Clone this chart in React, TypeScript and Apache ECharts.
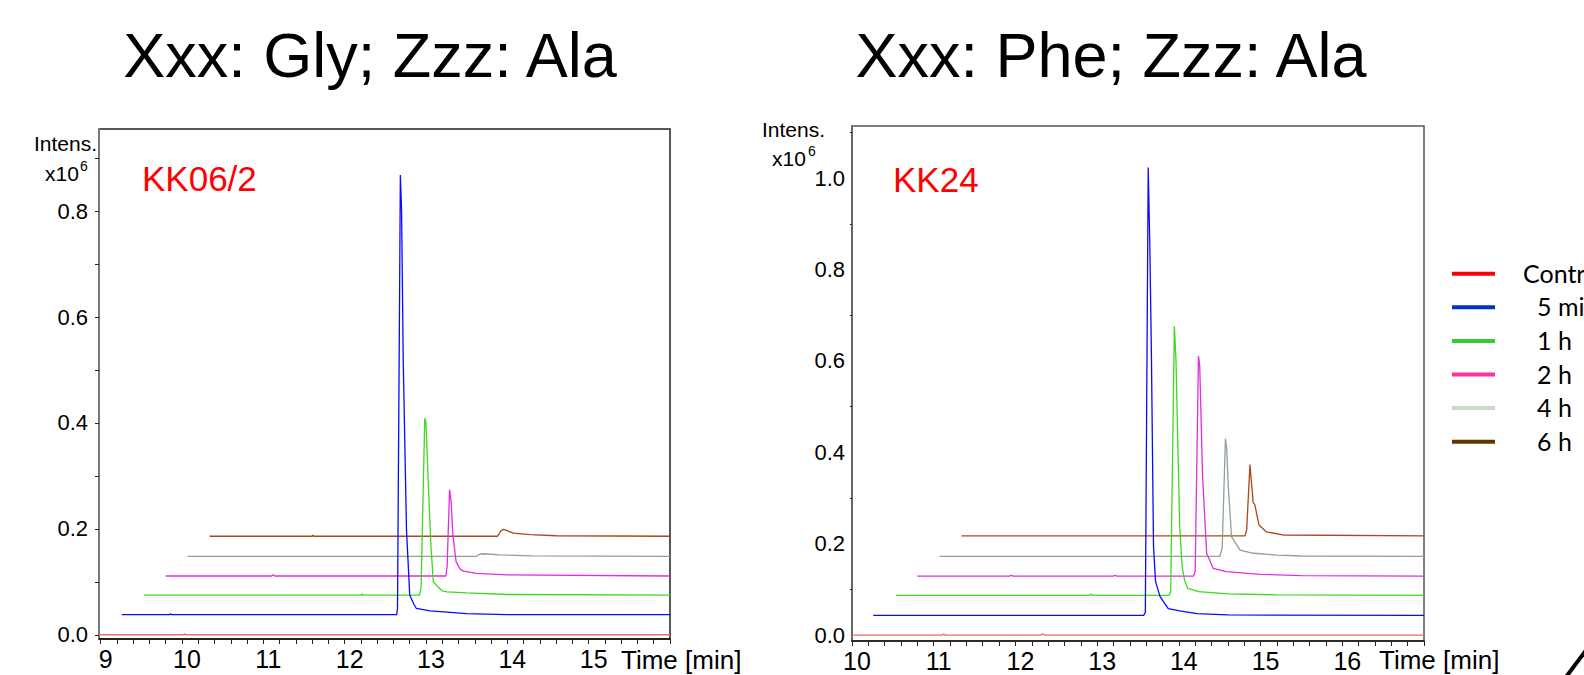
import React, { useEffect, useRef } from "react";
import * as echarts from "echarts";

const FONT = "'Liberation Sans', Arial, Helvetica, sans-serif";
const LEGEND_FONT = "Lato, Carlito, 'Open Sans', sans-serif";

const panelTitles = ["Xxx: Gly; Zzz: Ala", "Xxx: Phe; Zzz: Ala"];
const sampleLabels = ["KK06/2", "KK24"];
const yAxisTitle = "Intens.";
const yAxisScale = "x10";
const yAxisExp = "6";
const xAxisTitle = "Time [min]";

const seriesNames = ["Control", "5 min", "1 h", "2 h", "4 h", "6 h"];
const traceColors = ["#f06868", "#0a0aff", "#3ed81e", "#e02ee0", "#8fa38f", "#a8481c"];
const legendColors = ["#ff0000", "#0033cc", "#33cc33", "#ff3399", "#c8dcc8", "#663300"];

// tick label values
const glyXLabels = [9, 10, 11, 12, 13, 14, 15];
const glyYLabels = [0, 0.2, 0.4, 0.6, 0.8];
const pheXLabels = [10, 11, 12, 13, 14, 15, 16];
const pheYLabels = [0, 0.2, 0.4, 0.6, 0.8, 1.0];
const pheYTicks = [0.1, 0.3, 0.5, 0.7, 0.9, 1.1];

// Panel 1: Xxx = Gly  [time (min), intensity (x10^6)]
const glyControl = [[8.98, 0.0], [10.02, 0.0], [10.03, 0.002], [10.04, 0.0], [16.0, 0.0]];
const gly5min = [
  [9.26, 0.038], [9.85, 0.038], [9.86, 0.04], [9.87, 0.038], [12.0, 0.038], [12.64, 0.038],
  [12.65, 0.05], [12.685, 0.868], [12.7, 0.8], [12.72, 0.52], [12.76, 0.2], [12.8, 0.075],
  [12.85, 0.058], [12.88, 0.05], [13.05, 0.045], [13.5, 0.04], [14.0, 0.038], [16.0, 0.038],
];
const gly1h = [
  [9.53, 0.075], [12.2, 0.075], [12.21, 0.077], [12.22, 0.075], [12.92, 0.075], [12.94, 0.09],
  [12.985, 0.409], [13.0, 0.4], [13.03, 0.28], [13.06, 0.17], [13.09, 0.1], [13.15, 0.09],
  [13.2, 0.083], [13.26, 0.081], [13.5, 0.079], [14.0, 0.076], [16.0, 0.075],
];
const gly2h = [
  [9.8, 0.111], [11.1, 0.111], [11.12, 0.113], [11.14, 0.111], [13.245, 0.111], [13.26, 0.13],
  [13.29, 0.274], [13.31, 0.25], [13.33, 0.19], [13.37, 0.138], [13.42, 0.124], [13.46, 0.12],
  [13.62, 0.116], [14.0, 0.113], [16.0, 0.111],
];
const gly4h = [
  [10.07, 0.148], [13.62, 0.148], [13.66, 0.152], [13.72, 0.153], [13.9, 0.151], [14.3, 0.149],
  [16.0, 0.148],
];
const gly6h = [
  [10.34, 0.186], [11.6, 0.186], [11.61, 0.188], [11.62, 0.186], [13.88, 0.186], [13.92, 0.196],
  [13.95, 0.199], [13.99, 0.197], [14.07, 0.192], [14.28, 0.189], [14.6, 0.187], [16.0, 0.186],
];

// Panel 2: Xxx = Phe
const pheControl = [[10.0, 0.0], [11.1, 0.0], [11.12, 0.002], [11.14, 0.0], [12.3, 0.0], [12.33, 0.002], [12.36, 0.0], [17.0, 0.0]];
const phe5min = [
  [10.26, 0.043], [13.57, 0.043], [13.59, 0.05], [13.625, 1.023], [13.645, 0.85], [13.665, 0.6],
  [13.69, 0.193], [13.715, 0.117], [13.77, 0.084], [13.87, 0.058], [14.01, 0.053], [14.22, 0.047],
  [14.6, 0.044], [17.0, 0.043],
];
const phe1h = [
  [10.54, 0.087], [12.9, 0.087], [12.92, 0.089], [12.95, 0.087], [13.88, 0.087], [13.9, 0.095],
  [13.945, 0.676], [13.965, 0.6], [14.01, 0.237], [14.04, 0.15], [14.07, 0.12], [14.11, 0.102],
  [14.24, 0.095], [14.6, 0.09], [15.2, 0.088], [17.0, 0.087],
];
const phe2h = [
  [10.8, 0.129], [11.93, 0.129], [11.95, 0.131], [11.97, 0.129], [13.2, 0.129], [13.22, 0.131],
  [13.24, 0.129], [14.18, 0.129], [14.2, 0.14], [14.24, 0.611], [14.255, 0.59], [14.29, 0.35],
  [14.34, 0.179], [14.42, 0.146], [14.58, 0.139], [15.0, 0.133], [15.5, 0.13], [17.0, 0.129],
];
const phe4h = [
  [11.07, 0.172], [14.5, 0.172], [14.53, 0.19], [14.57, 0.43], [14.585, 0.41], [14.605, 0.325],
  [14.645, 0.215], [14.75, 0.186], [14.91, 0.179], [15.2, 0.175], [15.5, 0.173], [17.0, 0.172],
];
const phe6h = [
  [11.34, 0.217], [14.81, 0.217], [14.83, 0.23], [14.87, 0.373], [14.89, 0.33], [14.91, 0.29],
  [14.93, 0.285], [14.98, 0.241], [15.07, 0.226], [15.27, 0.219], [17.0, 0.217],
];

const glySeries = [glyControl, gly5min, gly1h, gly2h, gly4h, gly6h];
const pheSeries = [pheControl, phe5min, phe1h, phe2h, phe4h, phe6h];

function steps(a: number, b: number, s: number): number[] {
  const out: number[] = [];
  const n = Math.round((b - a) / s);
  for (let i = 0; i <= n; i++) out.push(+(a + i * s).toFixed(4));
  return out;
}

function xAxis(gridIndex: number, min: number, max: number, labels: number[], ticks: number[]) {
  return {
    type: "value",
    gridIndex,
    min,
    max,
    axisLine: { show: true, onZero: false, lineStyle: { color: "#111", width: 1.5 } },
    axisTick: { show: true, customValues: ticks, length: 5, lineStyle: { color: "#222", width: 1 } },
    axisLabel: {
      customValues: labels,
      fontSize: 25,
      color: "#000",
      fontFamily: FONT,
      margin: 7,
      padding: [0, 0, 0, 10],
      formatter: (v: number) => String(Math.round(v)),
    },
    splitLine: { show: false },
  };
}

function yAxis(gridIndex: number, min: number, max: number, labels: number[], ticks: number[], tickLen: number, color: string, margin: number) {
  return {
    type: "value",
    gridIndex,
    min,
    max,
    axisLine: { show: true, onZero: false, lineStyle: { color, width: 2 } },
    axisTick: { show: true, customValues: ticks, length: tickLen, lineStyle: { color: "#222", width: 1 } },
    axisLabel: {
      customValues: labels,
      fontSize: 22,
      color: "#000",
      fontFamily: FONT,
      margin,
      padding: [10, 0, 0, 0],
      formatter: (v: number) => v.toFixed(1),
    },
    splitLine: { show: false },
  };
}

function buildSeries(sets: number[][][], axisIndex: number) {
  return sets.map((d, i) => ({
    type: "line",
    name: seriesNames[i],
    xAxisIndex: axisIndex,
    yAxisIndex: axisIndex,
    data: d,
    symbol: "none",
    showSymbol: false,
    lineStyle: { color: traceColors[i], width: 1.3 },
    itemStyle: { color: traceColors[i] },
    z: 10 - i + (i === 1 ? 10 : 0),
  }));
}

function text(x: number, y: number, t: string, size: number, color: string, align: string, font = FONT) {
  return {
    type: "text",
    x,
    y,
    z: 50,
    style: { text: t, fontSize: size, fill: color, fontFamily: font, align, verticalAlign: "middle" },
  };
}

export default function App() {
  const ref = useRef<HTMLDivElement>(null);
  useEffect(() => {
    if (!ref.current) return;
    const chart = echarts.init(ref.current, undefined, { renderer: "svg" });

    const legendEls: any[] = [];
    seriesNames.forEach((n, i) => {
      const y = 273.7 + i * 33.6;
      legendEls.push({
        type: "line",
        z: 50,
        shape: { x1: 1452, y1: y, x2: 1495, y2: y },
        style: { stroke: legendColors[i], lineWidth: 4 },
      });
      legendEls.push(text(i === 0 ? 1523 : 1537, y - 1, n, 25, "#000", "left", LEGEND_FONT));
    });

    const option: any = {
      animation: false,
      backgroundColor: "#fff",
      grid: [
        { left: 99, top: 129, width: 571, height: 510, show: true, borderColor: "#222", borderWidth: 1.5, backgroundColor: "transparent" },
        { left: 852, top: 126, width: 572, height: 515, show: true, borderColor: "#555", borderWidth: 1.5, backgroundColor: "transparent" },
      ],
      xAxis: [
        xAxis(0, 8.98, 16.0, glyXLabels, steps(9, 16, 0.2)),
        xAxis(1, 10.0, 17.0, pheXLabels, steps(10, 17, 0.2)),
      ],
      yAxis: [
        yAxis(0, -0.008, 0.955, glyYLabels, steps(0, 0.9, 0.1), 4, "#777", 11),
        yAxis(1, -0.013, 1.114, pheYLabels, pheYTicks, 2, "#666", 7),
      ],
      series: [...buildSeries(glySeries, 0), ...buildSeries(pheSeries, 1)],
      graphic: [
        text(370, 55, panelTitles[0], 63, "#000", "center"),
        text(1111, 55, panelTitles[1], 63, "#000", "center"),
        text(142, 178, sampleLabels[0], 35, "#ff0000", "left"),
        text(893, 179, sampleLabels[1], 35, "#ff0000", "left"),
        text(34, 143, yAxisTitle, 21, "#000", "left"),
        text(45, 173, yAxisScale, 21, "#000", "left"),
        text(80, 166, yAxisExp, 14, "#000", "left"),
        text(762, 129, yAxisTitle, 21, "#000", "left"),
        text(772, 158, yAxisScale, 21, "#000", "left"),
        text(808, 151, yAxisExp, 14, "#000", "left"),
        text(621, 660, xAxisTitle, 26, "#000", "left"),
        text(1379, 660, xAxisTitle, 26, "#000", "left"),
        ...legendEls,
        {
          type: "line",
          z: 50,
          shape: { x1: 1566, y1: 677, x2: 1587, y2: 649 },
          style: { stroke: "#000", lineWidth: 4 },
        },
      ],
    };
    chart.setOption(option);
    return () => chart.dispose();
  }, []);

  return (
    <div
      ref={ref}
      style={{ position: "fixed", left: 0, top: 0, width: 1584, height: 675, background: "#fff" }}
    />
  );
}
